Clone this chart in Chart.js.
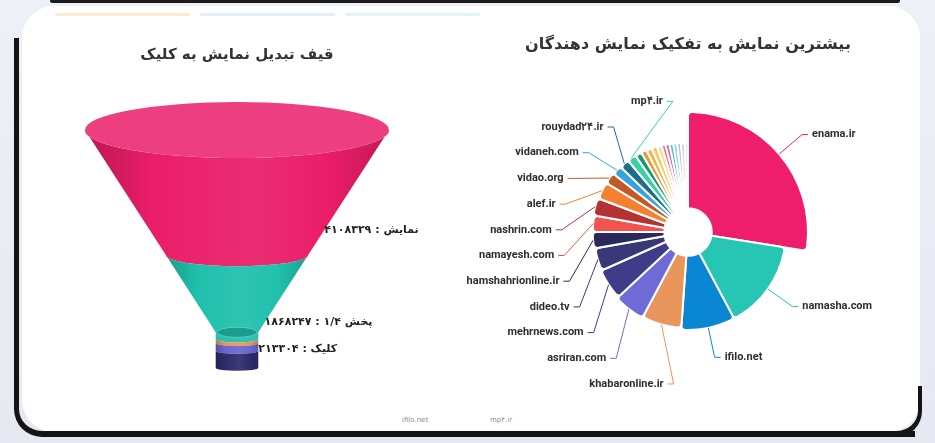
<!DOCTYPE html>
<html lang="fa">
<head>
<meta charset="utf-8">
<title>قیف تبدیل و نمایش دهندگان</title>
<script src="https://cdn.jsdelivr.net/npm/chart.js@4.4.1/dist/chart.umd.min.js"></script>
<style>
  html, body { margin: 0; padding: 0; }
  body { width: 935px; height: 443px; position: relative; overflow: hidden;
         background: linear-gradient(180deg, #eef0f7, #e6e8f2); }
  .card { position: absolute; left: 22px; top: 6px; width: 898px; height: 426px;
          background: #fff; border-radius: 32px; }
  .strip { position: absolute; top: 13px; height: 3px; border-radius: 2px; }
  .ink-top { position: absolute; left: 50px; top: -2px; width: 850px; height: 5px;
             background: #1b1b1b; border-radius: 3px; }
  .ink-frame { position: absolute; left: 14px; top: 38px; width: 896px; height: 393px;
               border-left: 5px solid #141414; border-bottom: 6px solid #141414;
               border-bottom-left-radius: 28px; }
  .ink-corner { position: absolute; left: 884px; top: 386px; width: 34px; height: 45px;
                border-right: 4px solid #141414; border-bottom: 6px solid #141414;
                border-bottom-right-radius: 26px; }
  .foot { position: absolute; top: 416px; font: 7px "DejaVu Sans", sans-serif; color: #8a8c96; }
  canvas { position: absolute; top: 0; }
  #funnel { left: 40px; }
  #rose { left: 430px; }
</style>
</head>
<body>
<div class="card"></div>
<div class="strip" style="left:55px;width:135px;background:#fdebcf"></div>
<div class="strip" style="left:200px;width:135px;background:#e3eefb"></div>
<div class="strip" style="left:345px;width:135px;background:#e2f4f8"></div>
<div class="ink-top"></div>
<div class="ink-frame"></div>
<div class="ink-corner"></div>
<div class="foot" style="left:402px">ifilo.net</div>
<div class="foot" style="left:490px">mp۴.ir</div>
<canvas id="funnel" width="394" height="420"></canvas>
<canvas id="rose" width="490" height="420"></canvas>
<script>
// ---------------- funnel data ----------------
const funnelStages = ['نمایش', 'پخش ۱/۴', 'کلیک'];
const funnelValues = [4108329, 1868247, 213304];
const funnelColors = ['#ea1d68', '#1fc0ac', '#2d2c6c'];

// ---------------- publishers data ----------------
const publishers = [
    'enama.ir', 'namasha.com', 'ifilo.net', 'khabaronline.ir', 'asriran.com',
    'mehrnews.com', 'dideo.tv', 'hamshahrionline.ir', 'namayesh.com', 'nashrin.com',
    'alef.ir', 'vidao.org', 'vidaneh.com', 'rouydad۲۴.ir', 'mp۴.ir',
    '', '', '', '', '', '', '', '', '', '', '', ''
];
// share of impressions (slice angle)
const publisherViews = [
    99, 53, 32, 24, 19, 19, 14, 10, 10, 10.5, 10.5, 7, 6, 6, 5.5,
    4, 3.5, 3.5, 3.5, 3, 2.5, 2.5, 2.5, 2.5, 2.5, 2.5, 2
];
// second measure (slice length)
const publisherReach = [
    100, 77, 77, 75, 76, 74, 73, 74, 74, 75, 74, 74, 73, 72, 72,
    71, 71, 70, 70, 69, 69, 69, 68, 68, 68, 67, 67
];
const publisherColors = [
    '#ee1e6d', '#26c5b4', '#0a87d2', '#e8965c', '#6e6ad6',
    '#3f3d89', '#393979', '#2a295c', '#f1534f', '#b53232',
    '#f5802f', '#c3582b', '#37a3dc', '#1e6e8b', '#3ccfa2',
    '#1b9676', '#e69b3a', '#f0b64d', '#f5cb6a', '#f7dc8f', '#ef6b96',
    '#de5c9c', '#45c2d8', '#8fd0ea', '#b9c3e8', '#cfd0dc', '#e2e2ea'
];

const fa = n => String(n).replace(/\d/g, d => '۰۱۲۳۴۵۶۷۸۹'[d]);

function shade(hex, p) {
    const n = parseInt(hex.slice(1), 16);
    const t = p < 0 ? 0 : 255, a = Math.abs(p);
    const c = [n >> 16, (n >> 8) & 255, n & 255].map(v => Math.round(v + (t - v) * a));
    return 'rgb(' + c.join(',') + ')';
}

// ---------------- funnel (3d cone drawn over stacked bars) ----------------
const NECK_WIDTH = 0.14;
const NECK_HEIGHT = 0.15;
const TILT = 0.184;
const neckBands = [
    { to: 0.13, color: '#e8955a' },
    { to: 0.40, color: '#6966cf' },
    { to: 1, color: funnelColors[2] }
];

const funnelCone = {
    id: 'funnelCone',
    beforeDatasetsDraw(chart) {
        const ctx = chart.ctx;
        const bars = chart.data.datasets.map((d, i) => chart.getDatasetMeta(i).data[0]);
        const cx = bars[0].x;
        const W = bars[0].width / 2;
        const top = Math.min(bars[0].y, bars[0].base);
        const last = bars[bars.length - 1];
        const bottom = Math.max(last.y, last.base);
        const w = W * NECK_WIDTH;
        const neckY = bottom - (bottom - top) * NECK_HEIGHT;
        const hw = y => y >= neckY ? w : W - (W - w) * (y - top) / (neckY - top);
        // lower rims look flatter than the top opening
        const tilt = y => TILT * (1 - 0.3 * (y - top) / (bottom - top));

        const path = (y0, y1) => {
            const a = hw(y0), b = hw(y1);
            const cross = y0 < neckY && y1 > neckY;
            ctx.beginPath();
            ctx.moveTo(cx - a, y0);
            if (cross) ctx.lineTo(cx - w, neckY);
            ctx.lineTo(cx - b, y1);
            ctx.ellipse(cx, y1, b, b * tilt(y1), 0, Math.PI, 0, true);
            if (cross) ctx.lineTo(cx + w, neckY);
            ctx.lineTo(cx + a, y0);
            ctx.ellipse(cx, y0, a, a * tilt(y0), 0, 0, Math.PI, false);
            ctx.closePath();
        };
        const sideFill = (c, a) => {
            const g = ctx.createLinearGradient(cx - a, 0, cx + a, 0);
            g.addColorStop(0, shade(c, -0.2));
            g.addColorStop(0.22, c);
            g.addColorStop(0.55, shade(c, 0.07));
            g.addColorStop(0.8, c);
            g.addColorStop(1, shade(c, -0.16));
            return g;
        };

        ctx.save();
        bars.forEach((bar, i) => {
            const y0 = Math.min(bar.y, bar.base), y1 = Math.max(bar.y, bar.base);
            const bands = i === bars.length - 1 ? neckBands : [{ to: 1, color: funnelColors[i] }];
            let from = y0;
            bands.forEach(band => {
                const to = y0 + (y1 - y0) * band.to;
                path(from, to);
                ctx.fillStyle = sideFill(band.color, hw(from));
                ctx.fill();
                from = to;
            });
        });

        // top face
        ctx.beginPath();
        ctx.ellipse(cx, top, W, W * TILT, 0, 0, Math.PI * 2);
        ctx.fillStyle = shade(funnelColors[0], 0.15);
        ctx.fill();

        // neck opening
        const neckStage = bars.findIndex(b => Math.max(b.y, b.base) > neckY);
        ctx.beginPath();
        ctx.ellipse(cx, neckY, w - 1, w * TILT * 1.3, 0, 0, Math.PI * 2);
        ctx.fillStyle = shade(funnelColors[neckStage], -0.18);
        ctx.fill();
        ctx.strokeStyle = shade(funnelColors[neckStage], 0.25);
        ctx.lineWidth = 1;
        ctx.stroke();

        // labels
        ctx.font = 'bold 11px "DejaVu Sans"';
        ctx.fillStyle = '#222';
        ctx.textBaseline = 'middle';
        ctx.textAlign = 'left';
        ctx.direction = 'rtl';
        bars.forEach((bar, i) => {
            const y0 = Math.min(bar.y, bar.base), y1 = Math.max(bar.y, bar.base);
            const ly = Math.min(y0 + (y1 - y0) * 0.8, bottom - 19);
            ctx.fillText(funnelStages[i] + ' : ' + fa(funnelValues[i]), cx + hw(ly), ly);
        });
        ctx.restore();
    }
};

// segment heights follow the square root of each count
const funnelDepth = funnelValues.map(Math.sqrt);

new Chart(document.getElementById('funnel'), {
    type: 'bar',
    data: {
        labels: ['funnel'],
        datasets: funnelStages.map((s, i) => ({
            label: s,
            data: [funnelDepth[i]],
            backgroundColor: 'rgba(0,0,0,0)',
            barPercentage: 1,
            categoryPercentage: 1,
            stack: 'f'
        }))
    },
    options: {
        responsive: false,
        animation: false,
        layout: { padding: { left: 45, right: 45, top: 0, bottom: 52 } },
        scales: {
            x: { display: false, stacked: true },
            y: { display: false, stacked: true, reverse: true, min: 0,
                 max: funnelDepth.reduce((a, b) => a + b, 0) }
        },
        plugins: {
            legend: { display: false },
            tooltip: { enabled: false },
            title: {
                display: true,
                text: 'قیف تبدیل نمایش به کلیک',
                color: '#333',
                font: { family: '"DejaVu Sans"', size: 15, weight: 'bold' },
                padding: { top: 46, bottom: 66 }
            }
        }
    },
    plugins: [funnelCone]
});

// ---------------- publishers rose ----------------
const totalViews = publisherViews.reduce((a, b) => a + b, 0);
const LINE1 = 30, LINE2 = 6, LABEL_GAP = 25.7;

const roseLabels = {
    id: 'roseLabels',
    afterDatasetsDraw(chart) {
        const ctx = chart.ctx;
        const scale = chart.scales.r;
        const cx = scale.xCenter, cy = scale.yCenter;
        const maxY = chart.height - 36;

        ctx.save();
        ctx.beginPath();
        ctx.arc(cx, cy, scale.getDistanceFromCenterForValue(0), 0, Math.PI * 2);
        ctx.fillStyle = '#fff';
        ctx.fill();

        const items = [];
        chart.getDatasetMeta(0).data.forEach((arc, i) => {
            if (!publishers[i]) return;
            const p = arc.getProps(['startAngle', 'endAngle', 'outerRadius'], true);
            const mid = (p.startAngle + p.endAngle) / 2;
            const r1 = p.outerRadius + LINE1;
            items.push({
                i, r1,
                x0: cx + Math.cos(mid) * p.outerRadius, y0: cy + Math.sin(mid) * p.outerRadius,
                x: cx + Math.cos(mid) * r1, y: cy + Math.sin(mid) * r1,
                dir: Math.cos(mid) < 0 ? -1 : 1
            });
        });

        [-1, 1].forEach(dir => {
            const side = items.filter(it => it.dir === dir).sort((a, b) => a.y - b.y);
            if (!side.length) return;
            let moved = false;
            for (let k = 1; k < side.length; k++) {
                if (side[k].y < side[k - 1].y + LABEL_GAP) { side[k].y = side[k - 1].y + LABEL_GAP; moved = true; }
            }
            if (side[side.length - 1].y > maxY) {
                side[side.length - 1].y = maxY;
                for (let k = side.length - 2; k >= 0; k--) side[k].y = Math.min(side[k].y, side[k + 1].y - LABEL_GAP);
                moved = true;
            }
            if (!moved) return;
            [side.filter(it => it.y <= cy), side.filter(it => it.y > cy)].forEach(semi => {
                if (!semi.length) return;
                const rB = Math.max(...semi.map(it => Math.abs(it.y - cy))) + 1;
                semi.forEach(it => {
                    const dy = it.y - cy;
                    it.x = cx + dir * it.r1 * Math.sqrt(Math.max(0, 1 - dy * dy / (rB * rB)));
                });
            });
        });

        ctx.lineWidth = 1;
        ctx.font = 'bold 11px Roboto';
        ctx.textBaseline = 'middle';
        items.forEach(it => {
            ctx.strokeStyle = publisherColors[it.i];
            ctx.beginPath();
            ctx.moveTo(it.x0, it.y0);
            ctx.lineTo(it.x, it.y);
            ctx.lineTo(it.x + it.dir * LINE2, it.y);
            ctx.stroke();
            ctx.fillStyle = '#2e2e2e';
            ctx.textAlign = it.dir < 0 ? 'right' : 'left';
            ctx.fillText(publishers[it.i], it.x + it.dir * (LINE2 + 4), it.y);
        });
        ctx.restore();
    }
};

new Chart(document.getElementById('rose'), {
    type: 'polarArea',
    data: {
        labels: publishers,
        datasets: [{
            data: publisherReach,
            backgroundColor: publisherColors,
            borderColor: '#fff',
            borderWidth: 2,
            borderRadius: 4,
            angle: c => publisherViews[c.dataIndex] / totalViews * 360
        }]
    },
    options: {
        responsive: false,
        animation: false,
        layout: { padding: { left: 40, right: 14, top: 0, bottom: 68 } },
        scales: {
            r: { display: false, min: -26, max: 100 }
        },
        plugins: {
            legend: { display: false },
            tooltip: { enabled: false },
            title: {
                display: true,
                text: 'بیشترین نمایش به تفکیک نمایش دهندگان',
                color: '#333',
                font: { family: '"DejaVu Sans"', size: 16, weight: 'bold' },
                padding: { top: 35, bottom: 57.8 }
            }
        }
    },
    plugins: [roseLabels]
});
</script>
</body>
</html>
